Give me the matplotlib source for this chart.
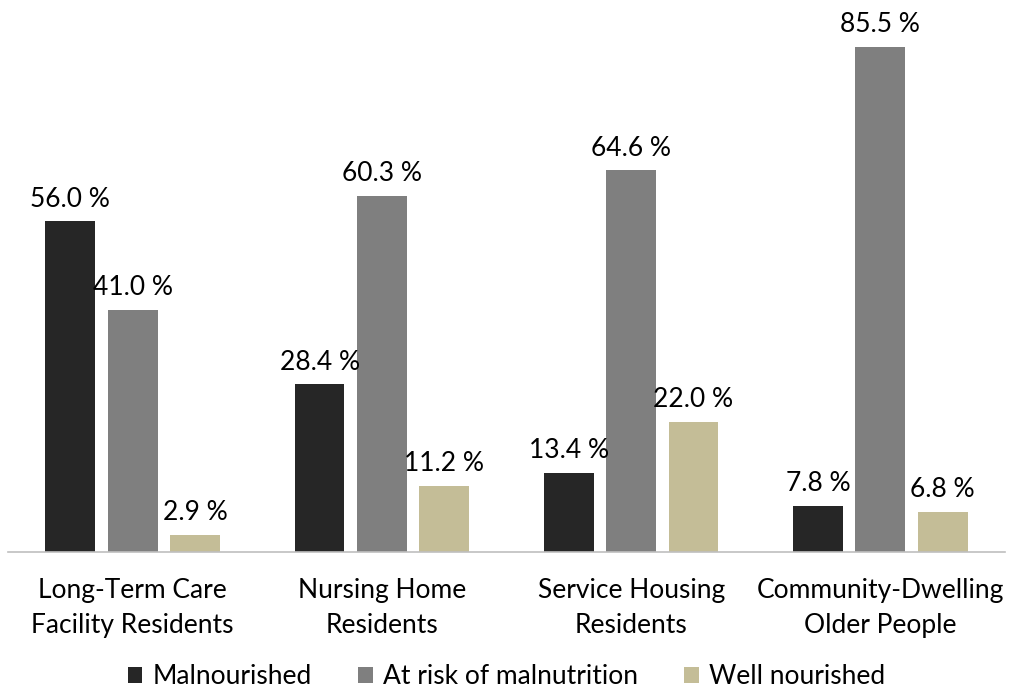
import matplotlib
matplotlib.use("Agg")
import matplotlib.pyplot as plt
import numpy as np

categories = ["Long-Term Care\nFacility Residents", "Nursing Home\nResidents",
              "Service Housing\nResidents", "Community-Dwelling\nOlder People"]
series_names = ["Malnourished", "At risk of malnutrition", "Well nourished"]
malnourished = [56.0, 28.4, 13.4, 7.8]
at_risk = [41.0, 60.3, 64.6, 85.5]
well_nourished = [2.9, 11.2, 22.0, 6.8]
colors = ["#262626", "#7f7f7f", "#c4bd97"]

plt.rcParams['font.family'] = ['Lato', 'DejaVu Sans']

fig = plt.figure(figsize=(10.13, 6.89), dpi=100)
ax = fig.add_axes([8/1013, (689-552)/689, 997/1013, 552/689])

x = np.arange(len(categories))
offsets = [-0.25, 0.0, 0.25]
width = 0.2
for vals, off, col, name in zip([malnourished, at_risk, well_nourished], offsets, colors, series_names):
    bars = ax.bar(x + off, vals, width, color=col, label=name)
    for b, v in zip(bars, vals):
        ax.annotate(f"{v:.1f} %", (b.get_x() + b.get_width()/2, v),
                    xytext=(0, 7), textcoords="offset points",
                    ha="center", va="bottom", fontsize=19, color="#000000")

ax.set_xlim(-0.5, 3.5)
ax.set_ylim(0, 552/5.906)
for s in ["top", "right", "left"]:
    ax.spines[s].set_visible(False)
ax.spines["bottom"].set_color("#bfbfbf")
ax.spines["bottom"].set_linewidth(1.2)
ax.set_yticks([])
ax.set_xticks(x)
ax.set_xticklabels(categories, fontsize=19, linespacing=1.5)
ax.tick_params(axis="x", length=0, pad=19)

fig.legend(loc="center", bbox_to_anchor=(0.5, 1 - 677/689), ncol=3, frameon=False,
           fontsize=19, handlelength=0.55, handleheight=0.55, handletextpad=0.4,
           columnspacing=1.75)

fig.savefig("out.png", dpi=100)
